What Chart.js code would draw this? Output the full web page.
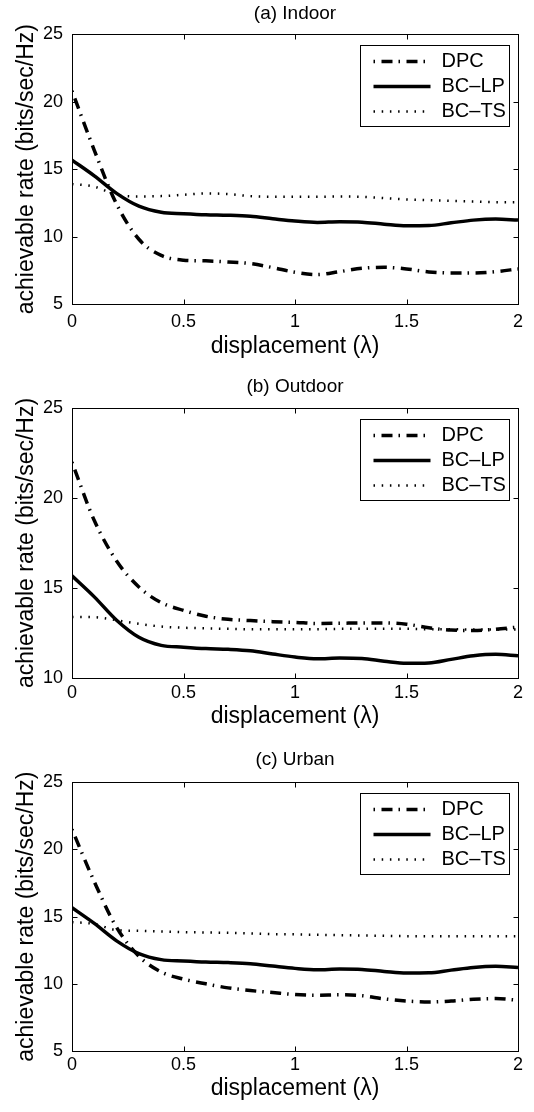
<!DOCTYPE html>
<html>
<head>
<meta charset="utf-8">
<script src="https://cdn.jsdelivr.net/npm/chart.js@4.4.1/dist/chart.umd.min.js"></script>
<style>
    html, body { margin: 0; padding: 0; background: #fff; }
    body { width: 534px; height: 1112px; position: relative; overflow: hidden; }
    canvas { position: absolute; left: 0; }
</style>
</head>
<body>
<canvas id="chartIndoor" width="534" height="370" style="top:0px"></canvas>
<canvas id="chartOutdoor" width="534" height="370" style="top:370px"></canvas>
<canvas id="chartUrban" width="534" height="372" style="top:740px"></canvas>
<script>
// Trục hoành: độ dịch chuyển (λ)
const displacement = [0, 0.1, 0.2, 0.3, 0.4, 0.5, 0.6, 0.7, 0.8, 0.9, 1.0,
                      1.1, 1.2, 1.3, 1.4, 1.5, 1.6, 1.7, 1.8, 1.9, 2.0];

// BC-LP giống nhau ở cả ba môi trường
const bcLp = [15.67, 14.5, 13.2, 12.25, 11.8, 11.7, 11.62, 11.58, 11.5, 11.32, 11.15,
              11.05, 11.1, 11.07, 10.92, 10.8, 10.82, 11.02, 11.22, 11.3, 11.22];

// (a) Indoor
const dpcIndoor = [20.8, 16.4, 12.4, 9.8, 8.6, 8.25, 8.2, 8.12, 8.0, 7.7, 7.35,
                   7.18, 7.4, 7.65, 7.72, 7.6, 7.38, 7.3, 7.3, 7.4, 7.6];
const tsIndoor = [13.9, 13.7, 13.1, 12.98, 13.0, 13.1, 13.2, 13.15, 13.0, 12.95, 12.95,
                  12.95, 12.97, 12.95, 12.85, 12.75, 12.7, 12.65, 12.6, 12.55, 12.55];

// (b) Outdoor
const dpcOutdoor = [22.0, 18.75, 16.5, 15.05, 14.18, 13.75, 13.42, 13.25, 13.18, 13.12, 13.08,
                    13.02, 13.03, 13.05, 13.05, 12.98, 12.78, 12.65, 12.63, 12.7, 12.82];
const tsOutdoor = [13.38, 13.37, 13.2, 13.0, 12.85, 12.78, 12.75, 12.72, 12.7, 12.7, 12.7,
                   12.7, 12.72, 12.72, 12.72, 12.72, 12.7, 12.7, 12.68, 12.68, 12.68];

// (c) Urban
const dpcUrban = [21.5, 17.6, 14.2, 12.05, 10.88, 10.35, 10.0, 9.7, 9.5, 9.35, 9.2,
                  9.15, 9.18, 9.12, 8.88, 8.72, 8.65, 8.72, 8.85, 8.9, 8.78];
const tsUrban = [14.6, 14.45, 14.0, 13.95, 13.9, 13.85, 13.82, 13.8, 13.75, 13.7, 13.68,
                 13.65, 13.62, 13.6, 13.57, 13.55, 13.55, 13.55, 13.55, 13.55, 13.55];

const FONT = '"Liberation Sans", Arial, Helvetica, sans-serif';
Chart.defaults.font.family = FONT;
Chart.defaults.color = '#000';

// Khung quanh vùng vẽ + vạch chia hướng vào trong (4 cạnh)
const khungPlugin = {
    id: 'khung',
    afterDraw(chart) {
        const { ctx, chartArea: a, scales } = chart;
        const L = Math.round(a.left) + 0.5, R = Math.round(a.right) + 0.5;
        const T = Math.round(a.top) + 0.5, B = Math.round(a.bottom) + 0.5;
        ctx.save();
        ctx.strokeStyle = '#000';
        ctx.lineWidth = 1;
        ctx.setLineDash([]);
        ctx.strokeRect(L, T, R - L, B - T);
        ctx.beginPath();
        scales.x.ticks.forEach(t => {
            const px = Math.round(scales.x.getPixelForValue(t.value)) + 0.5;
            ctx.moveTo(px, B); ctx.lineTo(px, B - 5);
            ctx.moveTo(px, T); ctx.lineTo(px, T + 5);
        });
        scales.y.ticks.forEach(t => {
            const py = Math.round(scales.y.getPixelForValue(t.value)) + 0.5;
            ctx.moveTo(L, py); ctx.lineTo(L + 5, py);
            ctx.moveTo(R, py); ctx.lineTo(R - 5, py);
        });
        ctx.stroke();
        ctx.restore();
    }
};

// Chú thích có khung ở góc trên bên phải
const chuThichPlugin = {
    id: 'chuThich',
    afterDraw(chart) {
        const { ctx, chartArea: a } = chart;
        const x0 = Math.round(a.right - 158) + 0.5, y0 = Math.round(a.top + 11) + 0.5;
        const w = 149, h = 81;
        ctx.save();
        ctx.fillStyle = '#fff';
        ctx.fillRect(x0, y0, w, h);
        ctx.strokeStyle = '#000';
        ctx.lineWidth = 1;
        ctx.strokeRect(x0, y0, w, h);
        ctx.font = '20px ' + FONT;
        ctx.textBaseline = 'middle';
        ctx.fillStyle = '#000';
        chart.data.datasets.forEach((ds, i) => {
            const y = y0 + 16 + i * 25;
            ctx.setLineDash(ds.borderDash || []);
            ctx.lineDashOffset = ds.borderDashOffset || 0;
            ctx.lineWidth = ds.borderWidth;
            ctx.lineCap = 'butt';
            ctx.beginPath();
            ctx.moveTo(x0 + 13, y);
            ctx.lineTo(x0 + 70, y);
            ctx.stroke();
            ctx.setLineDash([]);
            ctx.fillText(ds.label, x0 + 81, y);
        });
        ctx.restore();
    }
};

function veBieuDo(id, tieuDe, dpc, ts, yMin, kt) {
    new Chart(document.getElementById(id), {
        type: 'line',
        data: {
            labels: displacement,
            datasets: [{
                label: 'DPC',
                data: dpc,
                borderColor: '#000',
                borderWidth: 3.5,
                borderDash: [11, 6, 1.5, 6.5],
                borderDashOffset: 17,
                pointRadius: 0,
                cubicInterpolationMode: 'monotone',
                fill: false
            }, {
                label: 'BC–LP',
                data: bcLp,
                borderColor: '#000',
                borderWidth: 3.5,
                pointRadius: 0,
                cubicInterpolationMode: 'monotone',
                fill: false
            }, {
                label: 'BC–TS',
                data: ts,
                borderColor: '#000',
                borderWidth: 2.5,
                borderDash: [1.5, 6.7],
                pointRadius: 0,
                cubicInterpolationMode: 'monotone',
                fill: false
            }]
        },
        options: {
            responsive: false,
            animation: false,
            events: [],
            layout: { padding: { left: 0, right: 16, top: 0, bottom: 0 } },
            plugins: {
                legend: { display: false },
                tooltip: { enabled: false },
                title: {
                    display: true,
                    text: tieuDe,
                    fullSize: false,
                    color: '#000',
                    font: { size: 19, weight: 'normal' },
                    padding: { top: kt.titleTop, bottom: kt.titleBottom }
                }
            },
            scales: {
                x: {
                    type: 'linear',
                    min: 0,
                    max: 2,
                    grid: { display: false, drawTicks: false },
                    border: { display: false },
                    ticks: {
                        stepSize: 0.5,
                        padding: kt.tickPad,
                        maxRotation: 0,
                        font: { size: 18 },
                        callback: v => String(v)
                    },
                    title: {
                        display: true,
                        text: 'displacement (λ)',
                        font: { size: 23 },
                        padding: { top: 0, bottom: kt.xTitlePad }
                    },
                    afterFit(s) { s.height = kt.h - kt.bottom; }
                },
                y: {
                    min: yMin,
                    max: 25,
                    grid: { display: false, drawTicks: false },
                    border: { display: false },
                    ticks: { stepSize: 5, padding: 9, font: { size: 18 } },
                    title: {
                        display: true,
                        text: 'achievable rate (bits/sec/Hz)',
                        font: { size: 23 },
                        padding: { top: 13, bottom: 0 }
                    },
                    afterFit(s) { s.width = 72; }
                }
            }
        },
        plugins: [khungPlugin, chuThichPlugin]
    });
}

veBieuDo('chartIndoor', '(a) Indoor', dpcIndoor, tsIndoor, 5,
    { h: 370, bottom: 304, titleTop: 2, titleBottom: 9.5, tickPad: 7.5, xTitlePad: 9.2 });
veBieuDo('chartOutdoor', '(b) Outdoor', dpcOutdoor, tsOutdoor, 10,
    { h: 370, bottom: 307.7, titleTop: 5.3, titleBottom: 10.2, tickPad: 4.9, xTitlePad: 9.2 });
veBieuDo('chartUrban', '(c) Urban', dpcUrban, tsUrban, 5,
    { h: 372, bottom: 311, titleTop: 8.6, titleBottom: 10.9, tickPad: 3.4, xTitlePad: 9.2 });
</script>
</body>
</html>
